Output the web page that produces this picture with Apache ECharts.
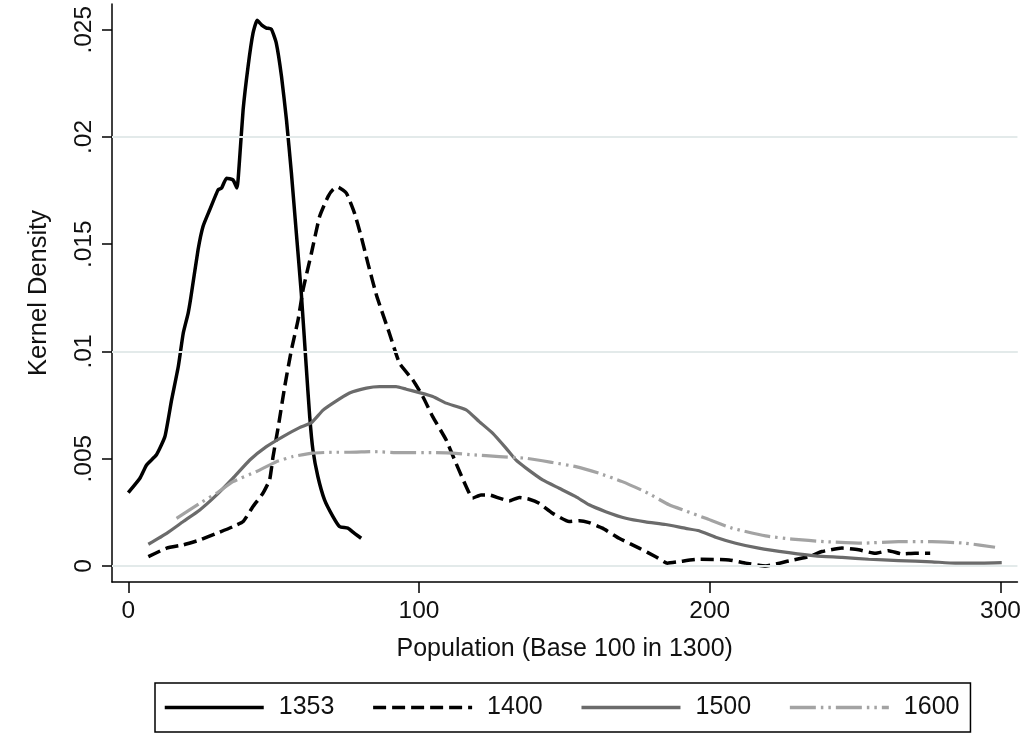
<!DOCTYPE html>
<html>
<head>
<meta charset="utf-8">
<script src="https://cdn.jsdelivr.net/npm/echarts@6/dist/echarts.min.js"></script>
<style>html,body{margin:0;padding:0;background:#fff;}#c{width:1024px;height:746px;}</style>
</head>
<body>
<div id="c"></div>
<script>
const seriesNames = ['1353', '1400', '1500', '1600'];
const xTickValues = [0, 100, 200, 300];
const yTickValues = [0, 0.005, 0.01, 0.015, 0.02, 0.025];
const yTickLabels = ['0', '.005', '.01', '.015', '.02', '.025'];
const xTitle = 'Population (Base 100 in 1300)';
const yTitle = 'Kernel Density';

const s1353 = [[0,0.00342],[4.0,0.00409],[6.3,0.00471],[9.7,0.00518],[12.6,0.00603],[14.9,0.00774],[17.2,0.0093],[18.9,0.01085],[20.6,0.01179],[21.5,0.0125],[24.0,0.01474],[25.7,0.01583],[28.0,0.0166],[30.9,0.01754],[32.1,0.01762],[33.8,0.01808],[36.0,0.018],[37.4,0.01762],[38.1,0.01862],[39.5,0.02127],[41.2,0.02329],[42.9,0.02484],[44.3,0.02544],[45.8,0.02523],[47.5,0.02508],[49.2,0.02503],[50.9,0.02438],[52.7,0.02282],[54.4,0.0208],[56.1,0.01832],[57.8,0.01552],[59.5,0.01272],[61.2,0.0093],[62.4,0.00696],[63.5,0.00541],[65.2,0.00417],[67.5,0.00308],[70.4,0.0023],[72.7,0.00183],[75.5,0.00176],[77.8,0.00152],[80.1,0.00129]];

const s1400 = [[6.9,0.00043],[13.2,0.00083],[18.9,0.00098],[24.6,0.00121],[30.4,0.00152],[36.0,0.00183],[39.5,0.00207],[42.9,0.00277],[46.3,0.00339],[48.6,0.00401],[49.8,0.0051],[51.6,0.0065],[53.8,0.00836],[56.1,0.01007],[58.4,0.01147],[60.1,0.01287],[63.0,0.01459],[65.8,0.01629],[68.7,0.01722],[70.5,0.01756],[72.1,0.01766],[75.0,0.01738],[77.8,0.01645],[80.1,0.01536],[82.4,0.01412],[85.5,0.01256],[89.8,0.01085],[93.3,0.00945],[97.8,0.00868],[101.3,0.0079],[104.7,0.00696],[109.3,0.00588],[112.7,0.00479],[116.2,0.0037],[118.4,0.00316],[121.3,0.00331],[124.2,0.00331],[127.6,0.00316],[131.0,0.00303],[134.5,0.00319],[137.9,0.00311],[141.3,0.00292],[145.9,0.00246],[151.6,0.00207],[155.1,0.00211],[158.5,0.00202],[163.1,0.00176],[168.8,0.00129],[175.7,0.00083],[181.4,0.00043],[185.4,0.00013],[189.4,0.0002],[196.3,0.00031],[206.6,0.00028],[212.3,0.00013],[219.2,0.0],[227.2,0.00023],[234.0,0.00043],[238.6,0.00067],[245.5,0.00083],[251.2,0.00075],[256.9,0.00059],[261.5,0.00071],[266.0,0.00056],[270.6,0.00059],[275.8,0.00059]];

const s1500 = [[6.9,0.00101],[13.2,0.00152],[18.9,0.00207],[24.6,0.00261],[30.4,0.00331],[36.0,0.00409],[41.8,0.00494],[47.5,0.00556],[53.2,0.00603],[58.9,0.00645],[63.0,0.00668],[66.9,0.00725],[70.4,0.00759],[76.1,0.00806],[81.9,0.00829],[86.4,0.00836],[92.1,0.00836],[95.6,0.00824],[100.1,0.00808],[104.7,0.0079],[109.3,0.00759],[116.2,0.00728],[120.7,0.00673],[125.3,0.00619],[129.9,0.00549],[133.3,0.00494],[136.8,0.00456],[142.5,0.00401],[148.2,0.00362],[153.9,0.00323],[158.5,0.00285],[164.2,0.00253],[171.1,0.00222],[177.9,0.00205],[184.8,0.00193],[191.7,0.00175],[196.3,0.00164],[202.0,0.00134],[208.9,0.00106],[216.8,0.00083],[227.2,0.00062],[236.3,0.00047],[245.5,0.0004],[254.6,0.00031],[264.9,0.00025],[276.4,0.00019],[284.4,0.00013],[293.5,0.00013],[300.4,0.00015]];

const s1600 = [[16.6,0.00222],[24.6,0.00292],[30.4,0.00339],[36.0,0.00393],[44.1,0.0044],[50.9,0.00486],[56.6,0.0051],[63.5,0.00526],[70.4,0.0053],[76.1,0.0053],[84.1,0.00533],[93.3,0.00528],[104.7,0.00528],[111.6,0.00526],[118.4,0.00518],[127.6,0.0051],[136.8,0.00502],[145.9,0.00482],[153.9,0.00463],[161.9,0.00432],[169.9,0.00393],[177.9,0.00345],[186.0,0.00285],[192.0,0.00255],[198.6,0.00222],[207.7,0.00176],[219.2,0.0014],[228.3,0.00125],[239.7,0.00113],[252.3,0.00106],[264.9,0.00113],[276.4,0.00113],[287.8,0.00106],[298.1,0.00087]];

const FONT = '"Liberation Sans", Arial, Helvetica, sans-serif';
const chart = echarts.init(document.getElementById('c'), null, {renderer: 'canvas'});

function lineSeries(name, data, color, width, type, smooth) {
  return {
    name: name, type: 'line', data: data, showSymbol: false, symbol: 'none',
    smooth: smooth, z: 3, silent: true,
    lineStyle: {color: color, width: width, type: type, cap: 'butt', join: 'round'},
    itemStyle: {color: color}
  };
}

chart.setOption({
  animation: false,
  backgroundColor: '#ffffff',
  grid: {left: 112, right: 5, top: 4, bottom: 164, containLabel: false},
  xAxis: {
    type: 'value', min: -5.6, max: 305.8,
    name: xTitle, nameLocation: 'middle', nameGap: 55,
    nameTextStyle: {fontFamily: FONT, fontSize: 25, color: '#111'},
    axisLine: {show: true, onZero: false, lineStyle: {color: '#000', width: 1.5}},
    axisTick: {show: true, length: 11, customValues: xTickValues, lineStyle: {color: '#000', width: 1.5}},
    axisLabel: {show: true, margin: 17, customValues: xTickValues, fontFamily: FONT, fontSize: 24.5, color: '#111',
      formatter: v => String(v)},
    splitLine: {show: false}
  },
  yAxis: {
    type: 'value', min: -0.00075, max: 0.0262,
    name: yTitle, nameLocation: 'middle', nameGap: 60,
    nameTextStyle: {fontFamily: FONT, fontSize: 25.5, color: '#111'},
    axisLine: {show: true, onZero: false, lineStyle: {color: '#000', width: 1.5}},
    axisTick: {show: true, length: 10, customValues: yTickValues, lineStyle: {color: '#000', width: 1.5}},
    axisLabel: {show: true, margin: 15, rotate: 90, customValues: yTickValues, fontFamily: FONT, fontSize: 24.5, color: '#111',
      formatter: v => { const i = yTickValues.findIndex(t => Math.abs(t - v) < 1e-9); return i >= 0 ? yTickLabels[i] : ''; }},
    splitLine: {show: false}
  },
  legend: {
    show: true, data: seriesNames, orient: 'horizontal',
    left: 155, top: 683,
    padding: [12, 11, 12, 8],
    borderColor: '#000', borderWidth: 1.5,
    itemWidth: 99, itemHeight: 25, itemGap: 37,
    itemStyle: {color: 'transparent', borderColor: 'transparent', borderWidth: 0},
    lineStyle: {width: 3.5},
    textStyle: {fontFamily: FONT, fontSize: 25, color: '#111', padding: [0, 0, 0, 10]}
  },
  series: [
    {
      name: 'grid', type: 'line', data: [], z: 1, silent: true,
      markLine: {
        silent: true, symbol: ['none', 'none'], label: {show: false},
        lineStyle: {color: '#e3eaea', width: 2, type: 'solid'},
        data: yTickValues.map(v => ({yAxis: v}))
      }
    },
    lineSeries('1353', s1353, '#000000', 3.5, 'solid', 0.15),
    lineSeries('1400', s1400, '#000000', 3.5, [13, 6], 0.15),
    lineSeries('1500', s1500, '#6b6b6b', 3.2, 'solid', 0.15),
    lineSeries('1600', s1600, '#a3a3a3', 3.2, [26, 5, 2.5, 5, 2.5, 5], 0.15)
  ]
});
</script>
</body>
</html>
